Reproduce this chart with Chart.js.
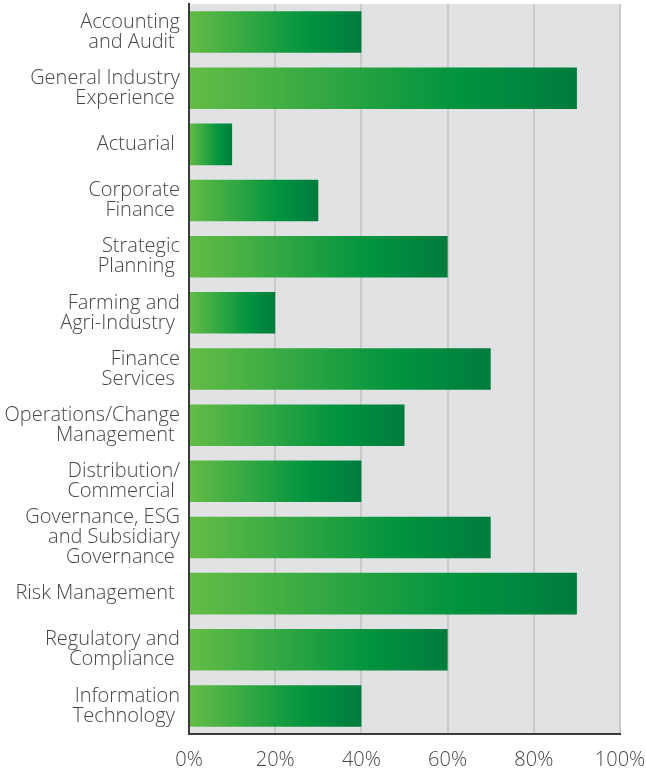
<!DOCTYPE html>
<html>
<head>
<meta charset="utf-8">
<script src="https://cdn.jsdelivr.net/npm/chart.js@4"></script>
<style>
    html, body { margin: 0; padding: 0; background: #ffffff; }
    #wrap { width: 646px; height: 774px; position: relative; }
</style>
</head>
<body>
<div id="wrap"><canvas id="skillsChart"></canvas></div>
<script>
// Board skills (share of directors)
const categories = [
    ["Accounting", "and Audit "],
    ["General Industry", "Experience "],
    "Actuarial ",
    ["Corporate", "Finance "],
    ["Strategic", "Planning "],
    ["Farming and", "Agri-Industry "],
    ["Finance", "Services "],
    ["Operations/Change", "Management "],
    ["Distribution/", "Commercial "],
    ["Governance, ESG", "and Subsidiary", "Governance "],
    "Risk Management ",
    ["Regulatory and", "Compliance "],
    ["Information", "Technology "]
];
const skillValues = [40, 90, 10, 30, 60, 20, 70, 50, 40, 70, 90, 60, 40];
const tickValues = [0, 20, 40, 60, 80, 100];

const textColor = "#474747";
const fontFamily = "'Open Sans', sans-serif";

// Grey panel behind the bars
const plotBackground = {
    id: "plotBackground",
    beforeDraw(chart) {
        const { ctx, chartArea } = chart;
        if (!chartArea) return;
        ctx.save();
        ctx.fillStyle = "#e1e2e4";
        ctx.fillRect(chartArea.left, chartArea.top, chartArea.right - chartArea.left, chartArea.bottom - chartArea.top);
        ctx.restore();
    }
};

// Each bar gets its own light-to-dark green gradient
function barGradient(context) {
    const chart = context.chart;
    const xScale = chart.scales.x;
    if (!chart.chartArea || !xScale || context.type !== "data") return "#1a9e48";
    const x0 = xScale.getPixelForValue(0);
    const x1 = xScale.getPixelForValue(context.raw);
    const g = chart.ctx.createLinearGradient(x0, 0, x1, 0);
    g.addColorStop(0, "#64bc46");
    g.addColorStop(0.7, "#00933f");
    g.addColorStop(1, "#007c3d");
    return g;
}

new Chart(document.getElementById("skillsChart").getContext("2d"), {
    type: "bar",
    data: {
        labels: categories,
        datasets: [{
            data: skillValues,
            backgroundColor: barGradient,
            borderWidth: 0,
            barPercentage: 0.74,
            categoryPercentage: 1
        }]
    },
    options: {
        indexAxis: "y",
        responsive: true,
        maintainAspectRatio: false,
        animation: false,
        layout: { padding: { top: 4, right: 26, left: 0, bottom: 0 } },
        plugins: {
            legend: { display: false },
            tooltip: { enabled: false }
        },
        scales: {
            x: {
                min: 0,
                max: 100,
                afterBuildTicks: (scale) => { scale.ticks = tickValues.map(v => ({ value: v })); },
                afterFit: (scale) => {
                    scale.height = 40;
                    scale.paddingLeft = 0;
                    scale.paddingRight = 0;
                },
                grid: { color: "#c9cacc", lineWidth: 2, drawTicks: false },
                border: { display: true, color: "#3a3a3a", width: 2 },
                ticks: {
                    color: textColor,
                    padding: 14,
                    maxRotation: 0,
                    font: { family: fontFamily, size: 20, weight: 300 },
                    callback: (v) => v + "%"
                }
            },
            y: {
                afterFit: (scale) => {
                    scale.width = 189;
                    scale.paddingTop = 0;
                    scale.paddingBottom = 0;
                },
                grid: { display: false, drawTicks: false },
                border: { display: true, color: "#3a3a3a", width: 2 },
                ticks: {
                    color: textColor,
                    padding: 9,
                    autoSkip: false,
                    font: { family: fontFamily, size: 20, weight: 300, lineHeight: 1.0 }
                }
            }
        }
    },
    plugins: [plotBackground]
});
</script>
</body>
</html>
